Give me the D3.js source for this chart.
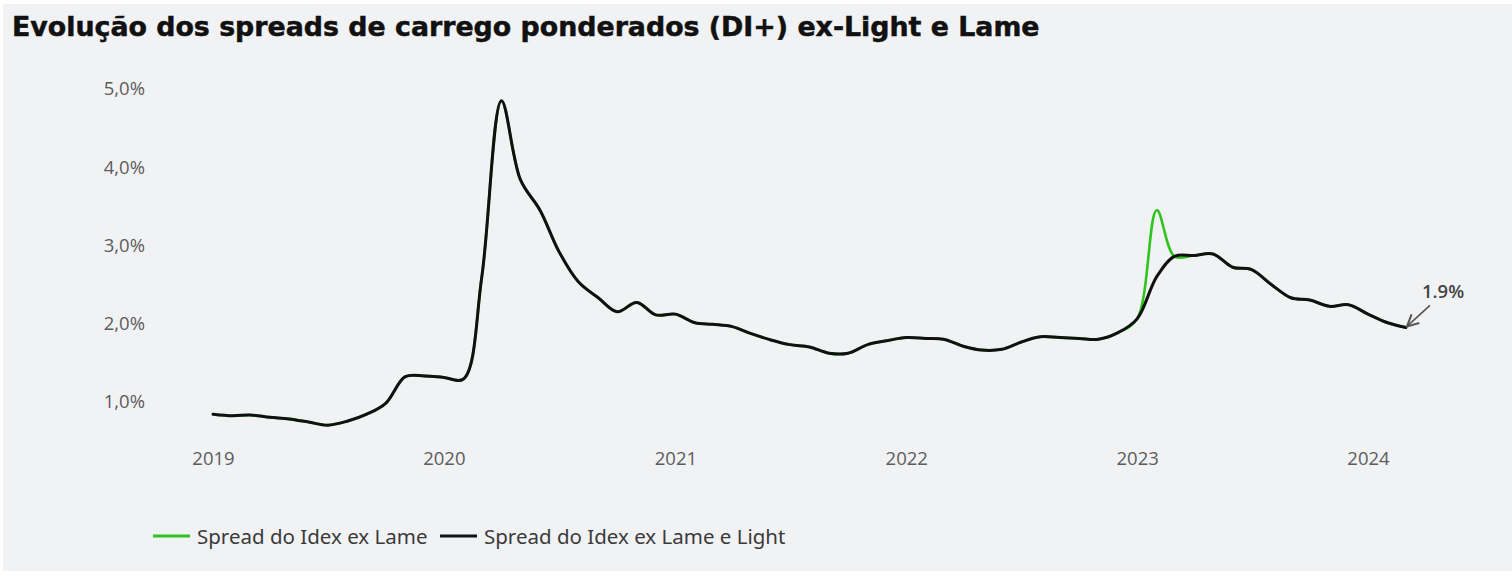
<!DOCTYPE html>
<html>
<head>
<meta charset="utf-8">
<script src="https://cdn.jsdelivr.net/npm/d3@7/dist/d3.min.js"></script>
<style>
  html, body { margin: 0; padding: 0; background: #fff; }
  svg { display: block; }
  .title { font-family: "DejaVu Sans", sans-serif; font-weight: bold; fill: #111; stroke: #111; stroke-width: 0.5px; }
  .axis text { font-family: "Open Sans", sans-serif; fill: #5c5c5c; }
  .legend text { font-family: "Noto Sans", sans-serif; fill: #3a3a3a; }
  .note { font-family: "Open Sans", sans-serif; font-weight: 600; fill: #444; }
</style>
</head>
<body>
<svg width="1512" height="576"></svg>
<script>
// monthly series, Jan 2019 .. Mar 2024
var startMonth = new Date(2019, 0, 1);
var spreadExLameLight = [
  0.84, 0.82, 0.83, 0.80, 0.78, 0.74, 0.70, 0.75, 0.84, 0.98, 1.32, 1.33,
  1.31, 1.29, 2.60, 4.85, 3.84, 3.45, 2.92, 2.53, 2.33, 2.15, 2.27, 2.11,
  2.12, 2.01, 1.99, 1.96, 1.87, 1.79, 1.73, 1.70, 1.62, 1.62, 1.73, 1.78,
  1.82, 1.81, 1.80, 1.71, 1.66, 1.67, 1.76, 1.83, 1.82, 1.81, 1.80, 1.88,
  2.06, 2.60, 2.86, 2.87, 2.89, 2.72, 2.69, 2.50, 2.33, 2.30, 2.22, 2.24,
  2.12, 2.01, 1.95
];
var spreadExLame = [
  0.84, 0.82, 0.83, 0.80, 0.78, 0.74, 0.70, 0.75, 0.84, 0.98, 1.32, 1.33,
  1.31, 1.29, 2.60, 4.85, 3.84, 3.45, 2.92, 2.53, 2.33, 2.15, 2.27, 2.11,
  2.12, 2.01, 1.99, 1.96, 1.87, 1.79, 1.73, 1.70, 1.62, 1.62, 1.73, 1.78,
  1.82, 1.81, 1.80, 1.71, 1.66, 1.67, 1.76, 1.83, 1.82, 1.81, 1.80, 1.88,
  2.06, 3.45, 2.86, 2.87, 2.89, 2.72, 2.69, 2.50, 2.33, 2.30, 2.22, 2.24,
  2.12, 2.01, 1.95
];
var yTicks = [1, 2, 3, 4, 5];
var xTicks = [2019, 2020, 2021, 2022, 2023, 2024];
var seriesNames = ["Spread do Idex ex Lame", "Spread do Idex ex Lame e Light"];
var seriesColors = ["#2fc41f", "#111"];
var lastLabel = "1.9%";

var svg = d3.select("svg");

svg.append("rect")
    .attr("x", 3).attr("y", 4)
    .attr("width", 1509).attr("height", 567)
    .attr("fill", "#f1f2f4");

var title = svg.append("text")
    .attr("class", "title")
    .attr("x", 12).attr("y", 36)
    .attr("font-size", 26)
    .text("Evolução dos spreads de carrego ponderados (DI+) ex-Light e Lame");
// squeeze/stretch the title to the width it takes in the source
var tw = title.node().getComputedTextLength();
title.attr("font-size", 26 * 1028 / tw);

var x = d3.scaleTime()
    .domain([new Date(2019, 0, 1), new Date(2024, 0, 1)])
    .range([213, 1368]);
var y = d3.scaleLinear()
    .domain([1, 5])
    .range([401.7, 89]);

var ptBR = d3.formatLocale({decimal: ",", thousands: ".", grouping: [3], currency: ["R$", ""]});
var pct = ptBR.format(".1f");

var yAxis = svg.append("g")
    .attr("class", "axis")
    .attr("transform", "translate(149,0)")
    .call(d3.axisLeft(y).tickValues(yTicks).tickSize(0).tickPadding(4)
        .tickFormat(function(d) { return pct(d) + "%"; }));
yAxis.select(".domain").remove();
yAxis.selectAll("text").attr("font-size", 18.5);

var xAxis = svg.append("g")
    .attr("class", "axis")
    .attr("transform", "translate(0,446)")
    .call(d3.axisBottom(x)
        .tickValues(xTicks.map(function(yr) { return new Date(yr, 0, 1); }))
        .tickSize(0).tickPadding(6)
        .tickFormat(d3.timeFormat("%Y")));
xAxis.select(".domain").remove();
xAxis.selectAll("text").attr("font-size", 18.5);

function monthOf(i) { return d3.timeMonth.offset(startMonth, i); }

var line = d3.line()
    .x(function(d, i) { return x(monthOf(i)); })
    .y(function(d) { return y(d); })
    .curve(d3.curveCatmullRom.alpha(0.5));

svg.append("path")
    .datum(spreadExLame)
    .attr("d", line)
    .attr("fill", "none")
    .attr("stroke", seriesColors[0])
    .attr("stroke-width", 2.6)
    .attr("stroke-linejoin", "round");

svg.append("path")
    .datum(spreadExLameLight)
    .attr("d", line)
    .attr("fill", "none")
    .attr("stroke", seriesColors[1])
    .attr("stroke-width", 3)
    .attr("stroke-linejoin", "round")
    .attr("stroke-linecap", "round");

// annotation arrow to last point
svg.append("defs").append("marker")
    .attr("id", "arrow")
    .attr("viewBox", "0 0 10 10")
    .attr("refX", 9).attr("refY", 5)
    .attr("markerWidth", 9).attr("markerHeight", 9)
    .attr("orient", "auto")
  .append("path")
    .attr("d", "M1,1 L9,5 L1,9")
    .attr("fill", "none")
    .attr("stroke", "#555")
    .attr("stroke-width", 1.4);

var lastI = spreadExLameLight.length - 1;
var lx = x(monthOf(lastI)), ly = y(spreadExLameLight[lastI]);
svg.append("line")
    .attr("x1", lx + 24).attr("y1", ly - 22)
    .attr("x2", lx + 1).attr("y2", ly - 1)
    .attr("stroke", "#555")
    .attr("stroke-width", 1.6)
    .attr("marker-end", "url(#arrow)");
svg.append("text")
    .attr("class", "note")
    .attr("x", lx + 16).attr("y", ly - 29)
    .attr("font-size", 18.5)
    .text(lastLabel);

// legend
var legend = svg.append("g").attr("class", "legend");
var legX = [153, 440];
seriesNames.forEach(function(name, i) {
  legend.append("line")
      .attr("x1", legX[i]).attr("x2", legX[i] + 37)
      .attr("y1", 536).attr("y2", 536)
      .attr("stroke", seriesColors[i])
      .attr("stroke-width", 3);
  legend.append("text")
      .attr("x", legX[i] + 44).attr("y", 544)
      .attr("font-size", 20.5)
      .text(name);
});
</script>
</body>
</html>
